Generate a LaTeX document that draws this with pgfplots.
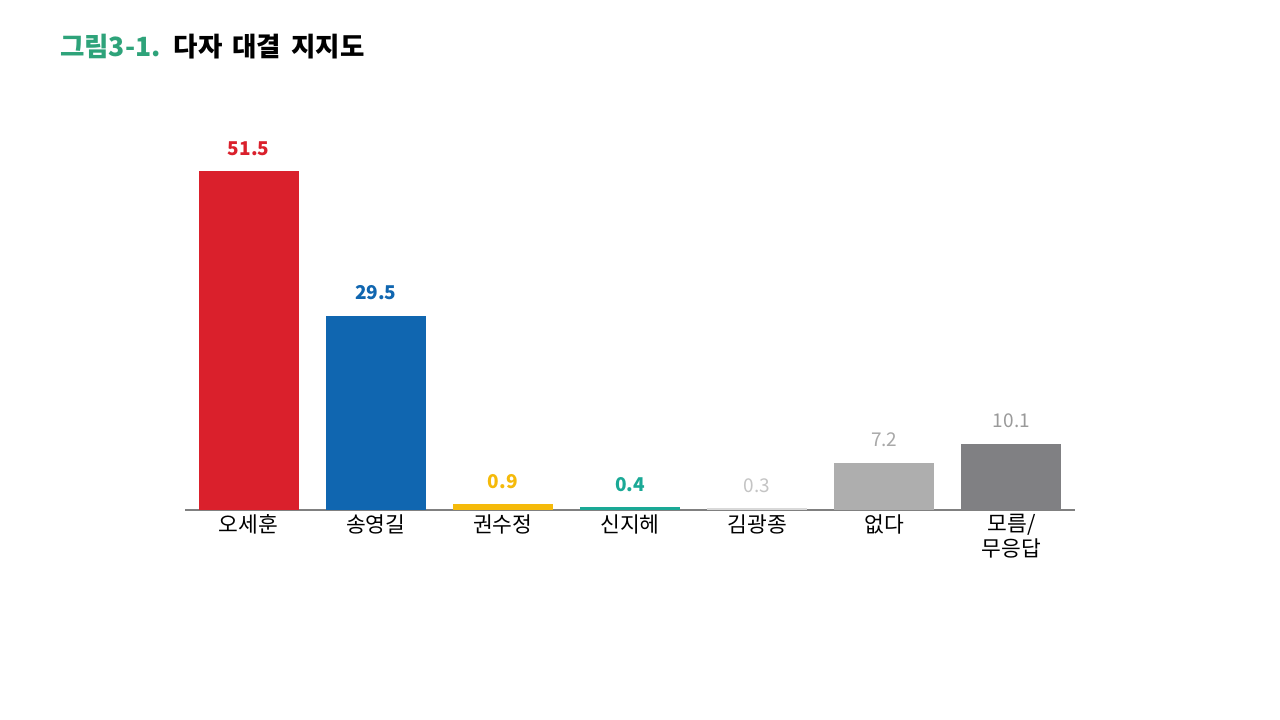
\documentclass[border=0pt]{standalone}
\usepackage{pgfplots}
\pgfplotsset{compat=1.18}
\usepackage{fontspec}
\setmainfont{Noto Sans CJK KR}
\definecolor{cred}{HTML}{DA202C}
\definecolor{cblue}{HTML}{1066B0}
\definecolor{cyellow}{HTML}{F5BA0A}
\definecolor{cteal}{HTML}{1AA996}
\definecolor{clgray}{HTML}{D9D9D9}
\definecolor{cmgray}{HTML}{AEAEAE}
\definecolor{cdgray}{HTML}{808083}
\definecolor{tlgray}{HTML}{C4C4C4}
\definecolor{tmgray}{HTML}{A8A8A8}
\definecolor{tdgray}{HTML}{9A9A9A}
\definecolor{tgreen}{HTML}{2EA37A}
\begin{document}
\begin{tikzpicture}[x=1pt,y=1pt]
\path[fill=white] (0,0) rectangle (1280,720);
\node[anchor=base west, inner sep=0pt, font=\bfseries\fontsize{26.5}{30}\selectfont] at (60,663) {\textcolor{tgreen}{그림3-1.}\hspace{13pt}다자\hspace{4pt} 대결\hspace{4pt} 지지도};
\begin{axis}[
  at={(185pt,210pt)}, anchor=south west,
  scale only axis, width=890pt, height=395pt,
  xmin=-0.5, xmax=6.5, ymin=0, ymax=60,
  axis x line*=bottom, axis y line=none,
  x axis line style={draw=black!50, line width=2pt, -},
  ytick={10,20,30,40,50,60}, yticklabels={},
  ymajorgrids, major grid style={draw=black!7, line width=1pt},
  xtick={0,1,2,3,4,5,6},
  xticklabels={오세훈,송영길,권수정,신지헤,김광종,없다,{모름/\\무응답}},
  xticklabel style={align=center, font=\fontsize{21.5}{25}\selectfont, yshift=-1pt},
  major tick length=0pt,
  ybar, bar width=100pt, bar shift=0pt,
  nodes near coords,
  /pgf/number format/assume math mode=true,
  /pgf/number format/fixed, /pgf/number format/fixed zerofill, /pgf/number format/precision=1,
  nodes near coords style={font=\bfseries\fontsize{19}{22}\selectfont, yshift=12pt},
  clip=false,
]
\addplot[fill=cred, draw=none, nodes near coords style={text=cred}] coordinates {(0,51.5)};
\addplot[fill=cblue, draw=none, nodes near coords style={text=cblue}] coordinates {(1,29.5)};
\addplot[fill=cyellow, draw=none, nodes near coords style={text=cyellow}] coordinates {(2,0.9)};
\addplot[fill=cteal, draw=none, nodes near coords style={text=cteal}] coordinates {(3,0.4)};
\addplot[fill=clgray, draw=none, nodes near coords style={text=tlgray, font=\mdseries\fontsize{19}{22}\selectfont}] coordinates {(4,0.3)};
\addplot[fill=cmgray, draw=none, nodes near coords style={text=tmgray, font=\mdseries\fontsize{19}{22}\selectfont}] coordinates {(5,7.2)};
\addplot[fill=cdgray, draw=none, nodes near coords style={text=tdgray, font=\mdseries\fontsize{19}{22}\selectfont}] coordinates {(6,10.1)};
\end{axis}
\end{tikzpicture}
\end{document}
